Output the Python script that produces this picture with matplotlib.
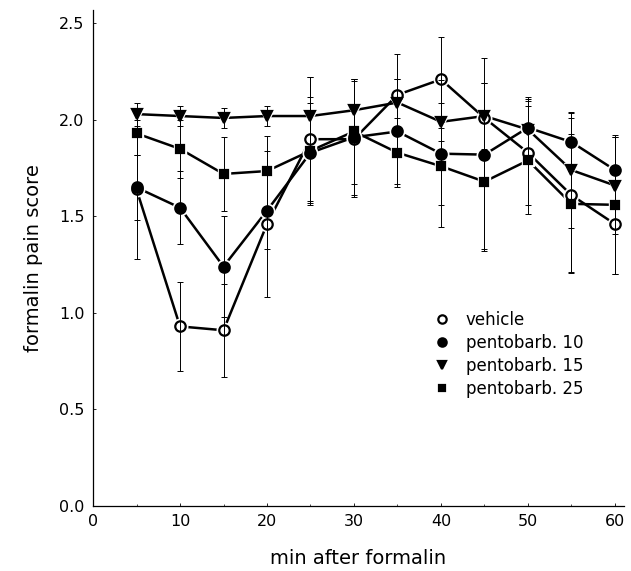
import matplotlib.pyplot as plt

minutes = [5, 10, 15, 20, 25, 30, 35, 40, 45, 50, 55, 60]

vehicle = [1.64, 0.93, 0.91, 1.46, 1.90, 1.90, 2.13, 2.21, 2.01, 1.83, 1.61, 1.46]
vehicle_err = [0.36, 0.23, 0.24, 0.38, 0.32, 0.30, 0.21, 0.22, 0.18, 0.27, 0.40, 0.26]

pento10 = [1.65, 1.545, 1.24, 1.53, 1.83, 1.91, 1.94, 1.825, 1.82, 1.96, 1.885, 1.74]
pento10_err = [0.17, 0.19, 0.26, 0.20, 0.26, 0.30, 0.27, 0.38, 0.50, 0.15, 0.15, 0.17]

pento15 = [2.03, 2.02, 2.01, 2.02, 2.02, 2.05, 2.09, 1.99, 2.02, 1.95, 1.74, 1.66]
pento15_err = [0.06, 0.05, 0.05, 0.05, 0.20, 0.16, 0.12, 0.10, 0.17, 0.17, 0.30, 0.25]

pento25 = [1.93, 1.85, 1.72, 1.735, 1.84, 1.94, 1.83, 1.76, 1.68, 1.79, 1.565, 1.56]
pento25_err = [0.11, 0.15, 0.19, 0.18, 0.28, 0.27, 0.18, 0.20, 0.35, 0.28, 0.36, 0.36]

x_ticks = [0, 10, 20, 30, 40, 50, 60]
y_ticks = [0.0, 0.5, 1.0, 1.5, 2.0, 2.5]

series = [
    ("vehicle", vehicle, vehicle_err, "o", 7.5, "white"),
    ("pentobarb. 10", pento10, pento10_err, "o", 7.5, "black"),
    ("pentobarb. 15", pento15, pento15_err, "v", 6.5, "black"),
    ("pentobarb. 25", pento25, pento25_err, "s", 5.8, "black"),
]

fig = plt.figure(figsize=(6.31, 5.71), dpi=100)
ax = fig.add_axes([0.1474, 0.114, 0.841, 0.8687])

handles = []
for label, vals, errs, mk, ms, face in series:
    ax.errorbar(minutes, vals, yerr=errs, fmt="none", ecolor="black",
                elinewidth=0.7, capsize=2, capthick=0.7, zorder=6)
    ax.plot(minutes, vals, "-", color="black", lw=1.8, zorder=2)
    # white halo so the lines stop short of the symbols
    ax.plot(minutes, vals, mk, ms=ms + 3, color="white", mec="white", zorder=3)
    h, = ax.plot(minutes, vals, mk, ms=ms, mfc=face, mec="black", mew=1.6,
                 color="black", linestyle="none", zorder=4, label=label)
    handles.append(h)

ax.set_xlim(0, 61)
ax.set_ylim(0, 2.57)
ax.set_xticks(x_ticks)
ax.set_yticks(y_ticks)
ax.set_yticklabels(["%.1f" % v for v in y_ticks])
ax.set_xticks(range(5, 61, 10), minor=True)
ax.tick_params(axis="both", which="major", direction="in", length=2,
               width=0.6, labelsize=11.5, pad=6)
ax.tick_params(axis="both", which="minor", direction="in", length=1.5, width=0.5)

for side in ["top", "right"]:
    ax.spines[side].set_visible(False)
for side in ["left", "bottom"]:
    ax.spines[side].set_linewidth(0.9)

ax.set_xlabel("min after formalin", fontsize=14, labelpad=14)
ax.set_ylabel("formalin pain score", fontsize=14, labelpad=12)

fig.legend(handles=handles, loc="upper left",
           bbox_to_anchor=(434 / 631, 1 - 311 / 571), frameon=False,
           fontsize=12, handlelength=1.0, handletextpad=0.9, markerscale=0.8,
           labelspacing=0.3, borderpad=0, borderaxespad=0)

fig.savefig("out.png", dpi=100, facecolor="white")
